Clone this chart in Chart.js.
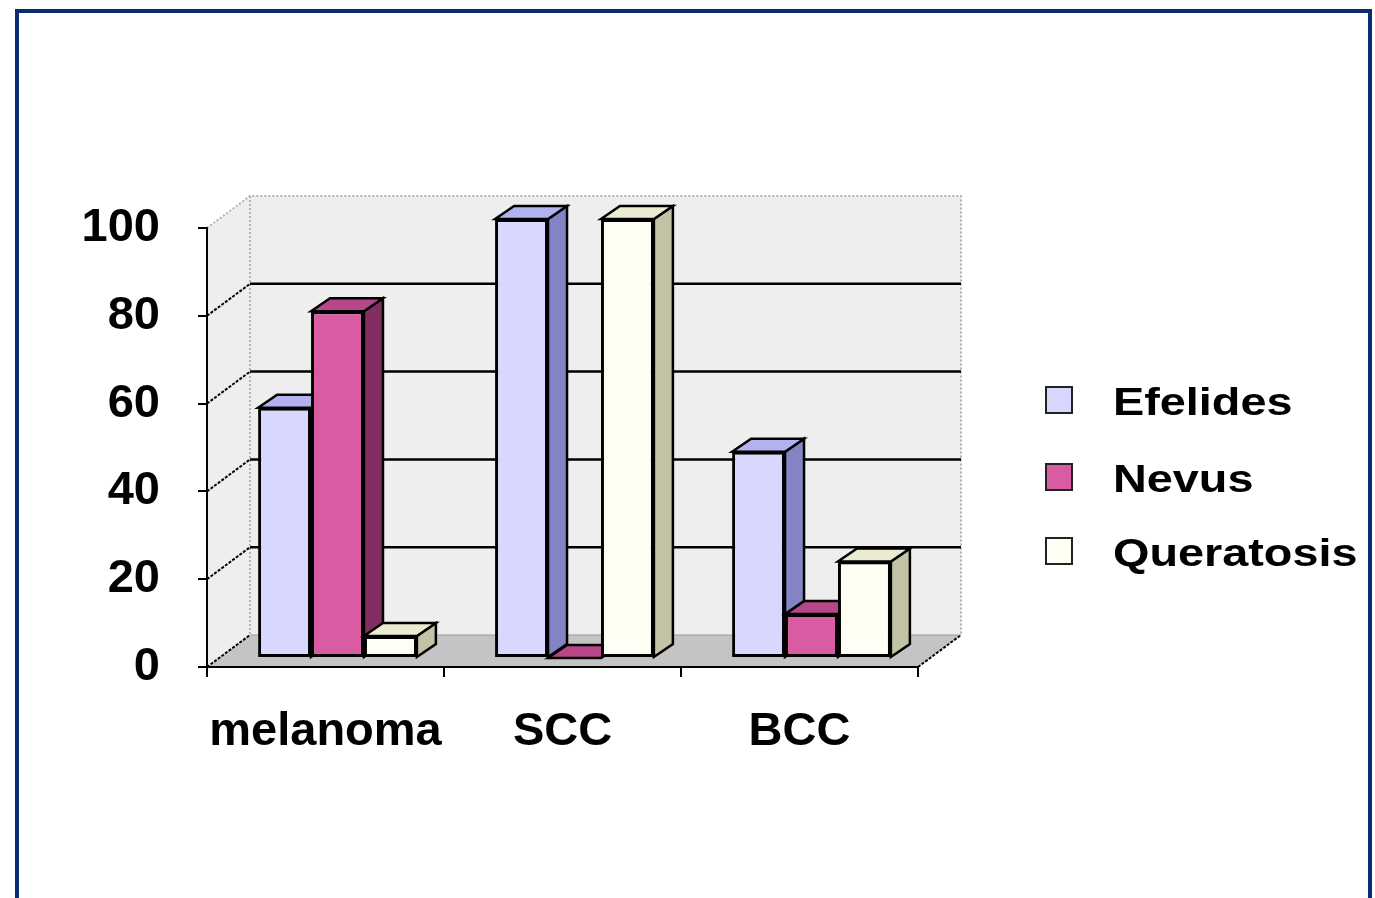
<!DOCTYPE html>
<html>
<head>
<meta charset="utf-8">
<script src="https://cdn.jsdelivr.net/npm/chart.js@4.4.1/dist/chart.umd.min.js"></script>
<style>
  html, body { margin: 0; padding: 0; background: #ffffff; overflow: hidden; }
  #wrap { position: relative; width: 1375px; height: 898px; }
  #c { position: absolute; left: 0; top: 0; }
  #frame { position: absolute; left: 15px; top: 9px; width: 1349px; height: 1000px;
           border: 4px solid #0b2c72; border-bottom: none; pointer-events: none; }
</style>
</head>
<body>
<div id="wrap">
  <canvas id="c" width="1375" height="898"></canvas>
  <div id="frame"></div>
</div>
<script>
// ---- data ----
const categories = ['melanoma', 'SCC', 'BCC'];
const seriesNames = ['Efelides', 'Nevus', 'Queratosis'];
const efelides   = [57, 100, 47];
const nevus      = [79, 0, 10];
const queratosis = [5, 100, 22];
const yTicks     = [0, 20, 40, 60, 80, 100];

// ---- styles ----
const frontColors = ['#d8d8fe', '#d95ca3', '#fefef2'];
const sideColors  = ['#8484c4', '#822e60', '#c2c2a4'];
const topColors   = ['#b2b2ee', '#b8478a', '#ebebd2'];
const FONT = '"Liberation Sans", Arial, sans-serif';

const BACK = { dx: 43, dy: -32 };    // depth of the whole 3D box
const BAR_PLANE = { dx: 12, dy: -9 }; // where the bar fronts sit
const BAR_DEPTH = { dx: 19, dy: -13 };

const walls = {
  id: 'walls',
  beforeDraw(chart) {
    const ctx = chart.ctx;
    const x = chart.scales.x, y = chart.scales.y;
    const L = x.left, R = x.right;
    const y0 = y.getPixelForValue(0), yT = y.getPixelForValue(100);
    const dx = BACK.dx, dy = BACK.dy;
    ctx.save();
    // floor
    ctx.fillStyle = '#c4c4c4';
    ctx.beginPath();
    ctx.moveTo(L, y0); ctx.lineTo(R, y0); ctx.lineTo(R + dx, y0 + dy); ctx.lineTo(L + dx, y0 + dy);
    ctx.closePath(); ctx.fill();
    // left wall
    ctx.fillStyle = '#eeeeee';
    ctx.beginPath();
    ctx.moveTo(L, y0); ctx.lineTo(L, yT); ctx.lineTo(L + dx, yT + dy); ctx.lineTo(L + dx, y0 + dy);
    ctx.closePath(); ctx.fill();
    // back wall
    ctx.fillRect(L + dx, yT + dy, R - L, y0 - yT);
    // light dotted edges
    ctx.strokeStyle = '#b4b4b4';
    ctx.lineWidth = 2;
    ctx.setLineDash([2, 2]);
    ctx.beginPath();
    ctx.moveTo(L, yT); ctx.lineTo(L + dx, yT + dy); ctx.lineTo(R + dx, yT + dy); ctx.lineTo(R + dx, y0 + dy);
    ctx.moveTo(L + dx, yT + dy); ctx.lineTo(L + dx, y0 + dy);
    ctx.stroke();
    ctx.setLineDash([]);
    // gridlines
    ctx.strokeStyle = '#000000';
    for (const v of yTicks) {
      if (v === 0 || v === 100) continue;
      const py = y.getPixelForValue(v);
      ctx.lineWidth = 2.5;
      ctx.beginPath();
      ctx.moveTo(L + dx, py + dy); ctx.lineTo(R + dx, py + dy);
      ctx.stroke();
      ctx.lineWidth = 2;
      ctx.setLineDash([3, 1.5]);
      ctx.beginPath();
      ctx.moveTo(L, py); ctx.lineTo(L + dx, py + dy);
      ctx.stroke();
      ctx.setLineDash([]);
    }
    // floor edges
    ctx.lineWidth = 2;
    ctx.setLineDash([3, 1.5]);
    ctx.beginPath();
    ctx.moveTo(L, y0); ctx.lineTo(L + dx, y0 + dy);
    ctx.moveTo(R, y0); ctx.lineTo(R + dx, y0 + dy);
    ctx.stroke();
    ctx.setLineDash([]);
    ctx.strokeStyle = '#9a9a9a';
    ctx.lineWidth = 1;
    ctx.beginPath();
    ctx.moveTo(L + dx, y0 + dy); ctx.lineTo(R + dx, y0 + dy);
    ctx.stroke();
    ctx.restore();
  },
  beforeDatasetsDraw(chart) {
    // draw every bar (depth faces, then the library's own front face), left to right
    const ctx = chart.ctx;
    ctx.save();
    ctx.translate(BAR_PLANE.dx, BAR_PLANE.dy);
    const ddx = BAR_DEPTH.dx, ddy = BAR_DEPTH.dy;
    chart.data.datasets.forEach((ds, i) => {
      const meta = chart.getDatasetMeta(i);
      for (const bar of meta.data) {
        const p = bar.getProps(['x', 'y', 'base', 'width'], true);
        const l = p.x - p.width / 2, r = p.x + p.width / 2;
        const t = Math.min(p.y, p.base), b = Math.max(p.y, p.base);
        ctx.strokeStyle = '#000000';
        ctx.lineWidth = 2.5;
        ctx.lineJoin = 'miter';
        // side face
        ctx.fillStyle = sideColors[i];
        ctx.beginPath();
        ctx.moveTo(r, t); ctx.lineTo(r + ddx, t + ddy); ctx.lineTo(r + ddx, b + ddy); ctx.lineTo(r, b);
        ctx.closePath(); ctx.fill(); ctx.stroke();
        // top face
        ctx.fillStyle = topColors[i];
        ctx.beginPath();
        ctx.moveTo(l, t); ctx.lineTo(l + ddx, t + ddy); ctx.lineTo(r + ddx, t + ddy); ctx.lineTo(r, t);
        ctx.closePath(); ctx.fill(); ctx.stroke();
        // front face, drawn by the bar element itself
        bar.draw(ctx, chart.chartArea);
        // heavier shadow edge on the right of the front face
        ctx.beginPath();
        ctx.moveTo(r - 1, t); ctx.lineTo(r - 1, b);
        ctx.lineWidth = 3;
        ctx.stroke();
      }
    });
    ctx.restore();
  },
  beforeDatasetDraw() {
    return false; // already drawn above in depth order
  },
  afterDraw(chart) {
    const ctx = chart.ctx;
    const x = chart.scales.x, y = chart.scales.y;
    const y0 = y.getPixelForValue(0);
    ctx.save();
    // small axis overhangs at the origin
    ctx.strokeStyle = '#000000';
    ctx.lineWidth = 2;
    ctx.beginPath();
    ctx.moveTo(x.left - 9, y0); ctx.lineTo(x.left, y0);
    ctx.moveTo(x.left, y0); ctx.lineTo(x.left, y0 + 9);
    ctx.stroke();
    // legend
    const centers = [400, 477, 551];
    chart.data.datasets.forEach((ds, i) => {
      const cy = centers[i];
      ctx.fillStyle = ds.backgroundColor;
      ctx.fillRect(1046, cy - 13, 26, 26);
      ctx.strokeStyle = '#222222';
      ctx.lineWidth = 2;
      ctx.strokeRect(1046, cy - 13, 26, 26);
      ctx.save();
      ctx.translate(1113, cy + 15);
      ctx.scale(1.2, 1);
      ctx.fillStyle = '#000000';
      ctx.font = 'bold 39px ' + FONT;
      ctx.textBaseline = 'alphabetic';
      ctx.textAlign = 'left';
      ctx.fillText(ds.label, 0, 0);
      ctx.restore();
    });
    ctx.restore();
  }
};

const chart = new Chart(document.getElementById('c'), {
  type: 'bar',
  data: {
    labels: categories,
    datasets: [
      { label: seriesNames[0], data: efelides,   backgroundColor: frontColors[0] },
      { label: seriesNames[1], data: nevus,      backgroundColor: frontColors[1] },
      { label: seriesNames[2], data: queratosis, backgroundColor: frontColors[2] }
    ].map(d => Object.assign(d, { borderColor: '#000000', borderWidth: 3, borderSkipped: false, clip: false,
                                  categoryPercentage: 0.67, barPercentage: 1.0 }))
  },
  options: {
    responsive: false,
    animation: false,
    devicePixelRatio: 1,
    layout: { padding: { top: 228, right: 457, bottom: 0, left: 0 } },
    plugins: { legend: { display: false }, tooltip: { enabled: false } },
    scales: {
      x: {
        grid: { display: true, drawOnChartArea: false, drawTicks: true, tickLength: 10, color: '#000000', lineWidth: 2, offset: true },
        border: { display: true, color: '#000000', width: 2 },
        ticks: { color: '#000000', font: { family: FONT, size: 47, weight: 'bold' }, padding: 27, maxRotation: 0 },
        afterFit(s) { s.height = 231; }
      },
      y: {
        min: 0, max: 100,
        afterBuildTicks(s) { s.ticks = yTicks.map(v => ({ value: v })); },
        grid: { display: true, drawOnChartArea: false, drawTicks: true, tickLength: 9, color: '#000000', lineWidth: 2 },
        border: { display: true, color: '#000000', width: 2 },
        ticks: { color: '#000000', font: { family: FONT, size: 47, weight: 'bold' }, padding: 38 },
        afterFit(s) { s.width = 207; }
      }
    }
  },
  plugins: [walls]
});
</script>
</body>
</html>
